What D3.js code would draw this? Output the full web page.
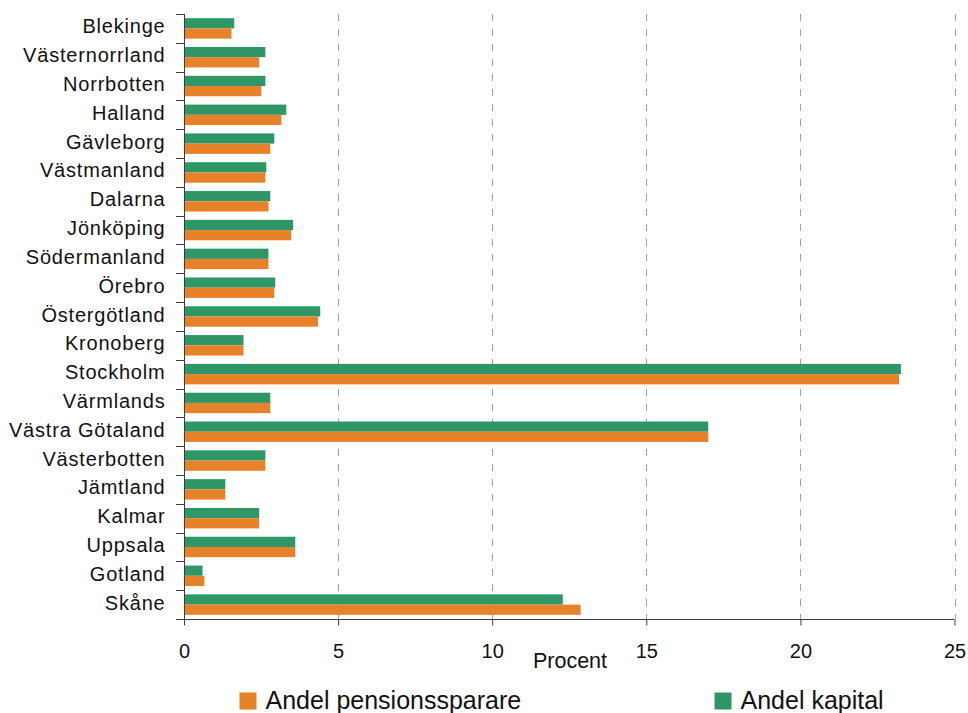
<!DOCTYPE html>
<html>
<head>
<meta charset="utf-8">
<script src="https://cdn.jsdelivr.net/npm/d3@7"></script>
<style>
  html, body { margin: 0; padding: 0; background: #ffffff; }
  svg { display: block; font-family: "Liberation Sans", Arial, sans-serif; }
</style>
</head>
<body>
<svg id="chart" width="968" height="713"></svg>
<script>
// Counties, top to bottom
const counties = [
  "Blekinge", "Västernorrland", "Norrbotten", "Halland", "Gävleborg",
  "Västmanland", "Dalarna", "Jönköping", "Södermanland", "Örebro",
  "Östergötland", "Kronoberg", "Stockholm", "Värmlands", "Västra Götaland",
  "Västerbotten", "Jämtland", "Kalmar", "Uppsala", "Gotland", "Skåne"
];
// Share of capital, percent
const andelKapital = [
  1.63, 2.64, 2.64, 3.32, 2.93,
  2.67, 2.80, 3.54, 2.74, 2.96,
  4.42, 1.93, 23.26, 2.80, 17.01,
  2.64, 1.34, 2.44, 3.61, 0.60, 12.29
];
// Share of pension savers, percent
const andelPensionssparare = [
  1.54, 2.44, 2.51, 3.16, 2.80,
  2.64, 2.74, 3.48, 2.74, 2.93,
  4.35, 1.93, 23.20, 2.80, 17.01,
  2.64, 1.34, 2.44, 3.61, 0.66, 12.87
];
const xTicks = [0, 5, 10, 15, 20, 25];
const xTitle = "Procent";
const seriesNames = ["Andel pensionssparare", "Andel kapital"];

const colors = { kapital: "#2f9668", pension: "#e8822a" };

const svg = d3.select("#chart");
const plotLeft = 184, plotRight = 954.5, plotTop = 14, plotBottom = 619;

const x = d3.scaleLinear().domain([0, 25]).range([plotLeft, plotRight]);
const y = d3.scaleBand().domain(counties).range([plotTop, plotBottom]).paddingInner(0.29).paddingOuter(0.145);
const sub = d3.scaleBand().domain(["kapital", "pension"]).range([0, y.bandwidth()]);

// Dashed vertical gridlines
svg.append("g")
  .selectAll("line")
  .data(xTicks.filter(d => d > 0))
  .join("line")
  .attr("x1", d => Math.round(x(d)) + 0.5)
  .attr("x2", d => Math.round(x(d)) + 0.5)
  .attr("y1", plotTop)
  .attr("y2", plotBottom)
  .attr("stroke", "#a0a0a0")
  .attr("stroke-width", 1)
  .attr("stroke-dasharray", "7,8");

// Bars
const rows = counties.map((c, i) => ({ c, kapital: andelKapital[i], pension: andelPensionssparare[i] }));
const groups = svg.append("g")
  .selectAll("g")
  .data(rows)
  .join("g")
  .attr("transform", d => `translate(0,${y(d.c)})`);

groups.selectAll("rect")
  .data(d => ["kapital", "pension"].map(k => ({ k, v: d[k] })))
  .join("rect")
  .attr("x", x(0))
  .attr("y", d => sub(d.k))
  .attr("width", d => x(d.v) - x(0))
  .attr("height", sub.bandwidth())
  .attr("fill", d => colors[d.k]);

// Left axis: tick marks on band boundaries
const axisColor = "#3c3c3c";
const boundaries = d3.range(counties.length + 1).map(i => plotTop + i * (plotBottom - plotTop) / counties.length);
svg.append("g")
  .selectAll("line")
  .data(boundaries)
  .join("line")
  .attr("x1", plotLeft - 8)
  .attr("x2", plotLeft)
  .attr("y1", d => Math.round(d) + 0.5)
  .attr("y2", d => Math.round(d) + 0.5)
  .attr("stroke", axisColor);
svg.append("line")
  .attr("x1", plotLeft + 0.5).attr("x2", plotLeft + 0.5)
  .attr("y1", plotTop).attr("y2", plotBottom + 6)
  .attr("stroke", axisColor);

// County labels
svg.append("g")
  .selectAll("text")
  .data(counties)
  .join("text")
  .attr("x", 165.5)
  .attr("y", d => y(d) + y.bandwidth() / 2 + 5)
  .attr("text-anchor", "end")
  .attr("font-size", 20)
  .attr("letter-spacing", 0.8)
  .attr("fill", "#111")
  .text(d => d);

// Bottom axis
const xAxis = d3.axisBottom(x).tickValues(xTicks).tickSize(6).tickPadding(18).tickFormat(d3.format("d"));
const gx = svg.append("g")
  .attr("transform", `translate(0,${plotBottom + 0.5})`)
  .call(xAxis);
gx.select(".domain").attr("stroke", axisColor).attr("d", `M${plotLeft},0H${plotRight}`);
gx.selectAll(".tick line").attr("stroke", axisColor);
gx.selectAll(".tick text")
  .attr("font-family", "Liberation Sans, Arial, sans-serif")
  .attr("font-size", 20)
  .attr("fill", "#111");

// Axis title
svg.append("text")
  .attr("x", 570)
  .attr("y", 668)
  .attr("text-anchor", "middle")
  .attr("font-size", 21.5)
  .attr("fill", "#111")
  .text(xTitle);

// Legend
const legendItems = [
  { name: seriesNames[0], color: colors.pension, x: 239.5 },
  { name: seriesNames[1], color: colors.kapital, x: 714.5 }
];
const lg = svg.append("g")
  .selectAll("g")
  .data(legendItems)
  .join("g")
  .attr("transform", d => `translate(${d.x},692.5)`);
lg.append("rect")
  .attr("width", 17)
  .attr("height", 17)
  .attr("fill", d => d.color);
lg.append("text")
  .attr("x", 26)
  .attr("y", 16.5)
  .attr("font-size", 25)
  .attr("fill", "#111")
  .text(d => d.name);
</script>
</body>
</html>
